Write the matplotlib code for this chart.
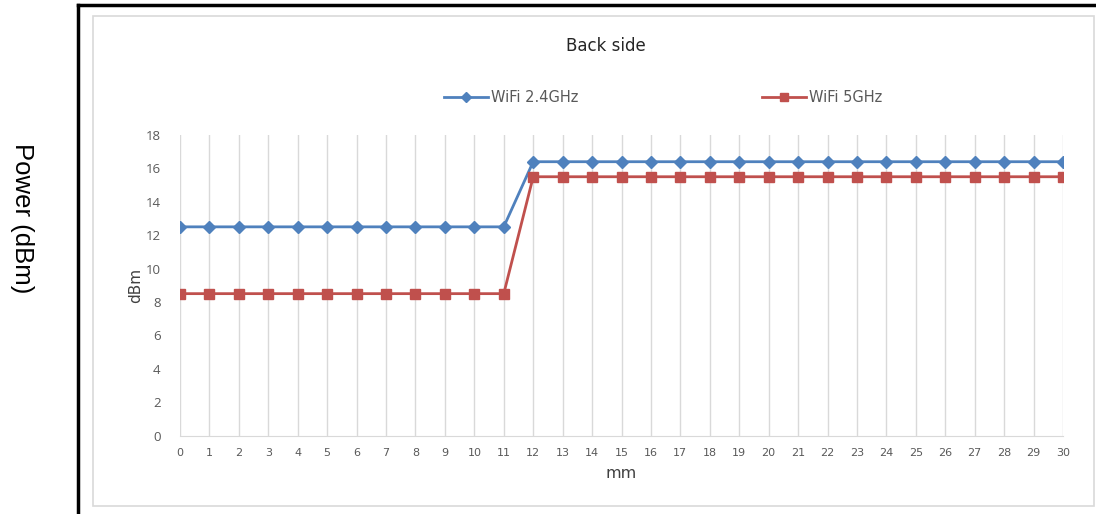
import matplotlib
matplotlib.use("Agg")
import matplotlib.pyplot as plt
from matplotlib.lines import Line2D
from matplotlib.patches import Rectangle

# data
mm = list(range(0, 31))
wifi_24 = [12.5] * 12 + [16.4] * 19
wifi_5 = [8.5] * 12 + [15.5] * 19
yticks = [0, 2, 4, 6, 8, 10, 12, 14, 16, 18]

W, H = 1096, 514
fig = plt.figure(figsize=(W / 100, H / 100), dpi=100)

def fx(px):
    return px / W

def fy(py):
    return 1 - py / H

# outer black frame (left + top edges) and inner gray chart box
fig.add_artist(Line2D([fx(78), fx(78)], [fy(5), fy(514)], color="black", lw=2.5))
fig.add_artist(Line2D([fx(78), fx(1096)], [fy(5), fy(5)], color="black", lw=2.5))
fig.add_artist(Rectangle((fx(93), fy(506)), fx(1094) - fx(93), fy(16) - fy(506),
                         fill=False, edgecolor="#d9d9d9", lw=1.2))

ax = fig.add_axes([fx(180), fy(435.6), fx(1063) - fx(180), fy(135) - fy(435.6)])

l1, = ax.plot(mm, wifi_24, color="#4F81BD", lw=2, marker="D", ms=6.5, label="WiFi 2.4GHz")
l2, = ax.plot(mm, wifi_5, color="#C0504D", lw=2, marker="s", ms=7, label="WiFi 5GHz")

ax.set_xlim(0, 30)
ax.set_ylim(0, 18)
ax.set_xticks(mm)
ax.set_yticks(yticks)
ax.grid(axis="x", color="#d9d9d9", lw=1)
ax.set_axisbelow(True)
for s in ["top", "right", "left"]:
    ax.spines[s].set_visible(False)
ax.spines["bottom"].set_color("#d9d9d9")
ax.tick_params(length=0, colors="#595959")
ax.tick_params(axis="x", labelsize=8, pad=9)
ax.tick_params(axis="y", labelsize=9.5, pad=14)
for t in ax.get_yticklabels():
    t.set_fontfamily("Open Sans")

ax.set_xlabel("mm", fontsize=11.5, color="#404040", labelpad=6)
ax.set_ylabel("dBm", fontsize=11, color="#404040", labelpad=2)

fig.text(fx(606), fy(46), "Back side", ha="center", va="center", fontsize=12,
         color="#262626")
fig.text(fx(22), fy(218), "Power (dBm)", ha="center", va="center", fontsize=18.5,
         rotation=-90, family="Liberation Sans")

# one legend box per series, placed like the original
for line, x0 in [(l1, 444), (l2, 762)]:
    leg = fig.legend(handles=[line], loc="center left", bbox_to_anchor=(fx(x0), fy(98)),
                     frameon=False, handlelength=3.0, handletextpad=0.2,
                     borderpad=0, borderaxespad=0, prop={"size": 10.5})
    for t in leg.get_texts():
        t.set_color("#595959")
    for h in leg.legend_handles:
        h.set_markersize(5.5)

fig.savefig("out.png", dpi=100)
